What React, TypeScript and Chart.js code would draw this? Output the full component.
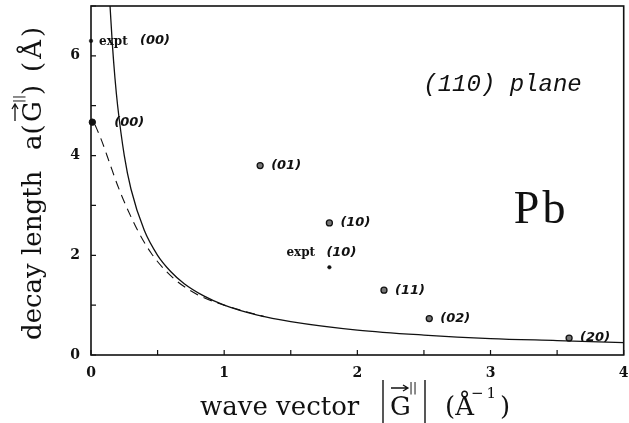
import React, { useEffect, useRef } from 'react';
import { Chart, registerables } from 'chart.js';

Chart.register(...registerables);

// ---- data ----
const solidX = [0.143, 0.16, 0.18, 0.2, 0.25, 0.3, 0.4, 0.5, 0.6, 0.7, 0.85, 1.0, 1.25, 1.5, 2.0, 2.5, 3.0, 3.5, 4.0];
const solidY = [7.0, 6.25, 5.55, 5.0, 4.0, 3.33, 2.5, 2.0, 1.67, 1.43, 1.18, 1.0, 0.8, 0.67, 0.5, 0.4, 0.33, 0.29, 0.25];

const dashedX = [0.03, 0.08, 0.14, 0.2, 0.27, 0.35, 0.45, 0.55, 0.65, 0.8, 1.0, 1.3];
const dashedY = [4.62, 4.3, 3.85, 3.4, 2.95, 2.5, 2.05, 1.72, 1.47, 1.21, 1.0, 0.77];

const theoryX = [1.27, 1.79, 2.2, 2.54, 3.59];
const theoryY = [3.8, 2.65, 1.3, 0.73, 0.34];
const theoryLabels = ['(01)', '(10)', '(11)', '(02)', '(20)'];

const theory00X = [0.01];
const theory00Y = [4.67];
const theory00Labels = ['(00)'];

const exptX = [0.0, 1.79];
const exptY = [6.3, 1.76];
const exptLabels = ['(00)', '(10)'];

const xMin = 0, xMax = 4, xStep = 1, xMinorStep = 0.5;
const yMin = 0, yMax = 7, yStep = 1;

const planeText = '(110) plane';
const elementText = 'Pb';

// ---- styles / layout (not data) ----
const INK = '#111';
const BASE = '26px "DejaVu Serif"';
const SUP_BAR = '12px "DejaVu Sans"';
const SUP_NUM = '15px "DejaVu Serif"';
const LABEL_FONT = 'italic bold 13px "DejaVu Sans"';
const EXPT_FONT = 'bold 12px "DejaVu Serif"';

type Seg =
  | { k: 't'; t: string; at: number; font: string; dy?: number; sp?: number }
  | { k: 'bar'; at: number; y1: number; y2: number }
  | { k: 'arrow'; at: number; len: number; dy: number };

const xTitleSpec: Seg[] = [
  { k: 't', t: 'wave vector', at: 0, font: BASE },
  { k: 'bar', at: 183, y1: -35, y2: 8 },
  { k: 't', t: 'G', at: 190, font: BASE },
  { k: 'arrow', at: 191, len: 17, dy: -27 },
  { k: 't', t: '||', at: 209, font: SUP_BAR, dy: -23 },
  { k: 'bar', at: 225, y1: -35, y2: 8 },
  { k: 't', t: '(Å', at: 245, font: BASE },
  { k: 't', t: '−1', at: 271, font: SUP_NUM, dy: -17, sp: 3 },
  { k: 't', t: ')', at: 300, font: BASE },
];

const yTitleSpec: Seg[] = [
  { k: 't', t: 'decay length', at: 0, font: BASE },
  { k: 't', t: 'a(', at: 190, font: BASE },
  { k: 't', t: 'G', at: 218, font: BASE },
  { k: 'arrow', at: 219, len: 17, dy: -26 },
  { k: 't', t: '||', at: 237, font: SUP_BAR, dy: -18 },
  { k: 't', t: ')', at: 245, font: BASE },
  { k: 't', t: '(Å)', at: 268, font: BASE, sp: 3 },
];

function drawSpec(ctx: CanvasRenderingContext2D, spec: Seg[]) {
  ctx.fillStyle = INK;
  ctx.strokeStyle = INK;
  ctx.textAlign = 'left';
  ctx.textBaseline = 'alphabetic';
  for (const s of spec) {
    if (s.k === 't') {
      ctx.font = s.font;
      (ctx as any).letterSpacing = (s.sp || 0) + 'px';
      ctx.fillText(s.t, s.at, s.dy || 0);
      (ctx as any).letterSpacing = '0px';
    } else if (s.k === 'bar') {
      ctx.lineWidth = 1.4;
      ctx.beginPath();
      ctx.moveTo(s.at, s.y1);
      ctx.lineTo(s.at, s.y2);
      ctx.stroke();
    } else {
      ctx.lineWidth = 1.3;
      ctx.beginPath();
      ctx.moveTo(s.at, s.dy);
      ctx.lineTo(s.at + s.len, s.dy);
      ctx.moveTo(s.at + s.len - 5, s.dy - 3);
      ctx.lineTo(s.at + s.len, s.dy);
      ctx.lineTo(s.at + s.len - 5, s.dy + 3);
      ctx.stroke();
    }
  }
}

const decorPlugin = {
  id: 'decor',
  afterDraw(chart: any) {
    const ctx: CanvasRenderingContext2D = chart.ctx;
    const { left, right, top, bottom } = chart.chartArea;
    const xs = chart.scales.x;
    const ys = chart.scales.y;
    ctx.save();
    ctx.strokeStyle = INK;
    ctx.fillStyle = INK;
    // frame
    ctx.lineWidth = 1.6;
    ctx.strokeRect(left, top, right - left, bottom - top);
    // inward ticks
    ctx.lineWidth = 1.2;
    ctx.beginPath();
    for (let v = xMin; v <= xMax + 1e-9; v += xMinorStep) {
      const p = xs.getPixelForValue(v);
      ctx.moveTo(p, bottom);
      ctx.lineTo(p, bottom - 5);
    }
    for (let v = yMin; v <= yMax; v += yStep) {
      const p = ys.getPixelForValue(v);
      ctx.moveTo(left, p);
      ctx.lineTo(left + 5, p);
    }
    ctx.stroke();

    // point labels
    ctx.textBaseline = 'middle';
    ctx.textAlign = 'left';
    ctx.font = LABEL_FONT;
    theoryX.forEach((x, i) => {
      const px = xs.getPixelForValue(x);
      const py = ys.getPixelForValue(theoryY[i]);
      ctx.fillText(theoryLabels[i], px + 11, py);
    });
    theory00X.forEach((x, i) => {
      const px = xs.getPixelForValue(x);
      const py = ys.getPixelForValue(theory00Y[i]);
      ctx.fillText(theory00Labels[i], px + 22, py);
    });
    // expt labels
    const exptOffsets = [
      { ex: 8, lx: 49, dy: 1 },
      { ex: -43, lx: -3, dy: -14 },
    ];
    exptX.forEach((x, i) => {
      const px = xs.getPixelForValue(x);
      const py = ys.getPixelForValue(exptY[i]);
      const o = exptOffsets[i];
      ctx.font = EXPT_FONT;
      ctx.fillText('expt', px + o.ex, py + o.dy);
      ctx.font = LABEL_FONT;
      ctx.fillText(exptLabels[i], px + o.lx, py + o.dy - 1);
    });

    // annotations
    ctx.textAlign = 'center';
    ctx.font = 'italic 24px "Liberation Mono"';
    ctx.fillText(planeText, xs.getPixelForValue(3.09), ys.getPixelForValue(5.43));
    ctx.font = '46px "Liberation Serif"';
    (ctx as any).letterSpacing = '3px';
    ctx.fillText(elementText, xs.getPixelForValue(3.38), ys.getPixelForValue(2.88));
    (ctx as any).letterSpacing = '0px';

    // axis titles
    ctx.save();
    ctx.translate(200, 415);
    drawSpec(ctx, xTitleSpec);
    ctx.restore();

    ctx.save();
    ctx.translate(41, 340);
    ctx.rotate(-Math.PI / 2);
    drawSpec(ctx, yTitleSpec);
    ctx.restore();

    ctx.restore();
  },
};

const zip = (xs: number[], ys: number[]) => xs.map((x, i) => ({ x, y: ys[i] }));

export default function App() {
  const ref = useRef<HTMLCanvasElement | null>(null);
  useEffect(() => {
    document.body.style.margin = '0';
    document.body.style.overflow = 'hidden';
    document.body.style.background = '#fff';
    if (!ref.current) return;
    const tickFont = { family: 'DejaVu Serif', size: 14, weight: 'bold' as const };
    const chart = new Chart(ref.current, {
      type: 'scatter',
      data: {
        datasets: [
          {
            data: zip(solidX, solidY),
            showLine: true,
            borderColor: INK,
            borderWidth: 1.3,
            pointRadius: 0,
            cubicInterpolationMode: 'monotone',
          },
          {
            data: zip(dashedX, dashedY),
            showLine: true,
            borderColor: INK,
            borderWidth: 1.1,
            borderDash: [9, 6],
            pointRadius: 0,
            cubicInterpolationMode: 'monotone',
          },
          {
            data: zip(theoryX, theoryY),
            showLine: false,
            pointRadius: 3,
            pointBackgroundColor: '#777',
            pointBorderColor: INK,
            pointBorderWidth: 1.3,
            clip: false,
          },
          {
            data: zip(theory00X, theory00Y),
            showLine: false,
            pointRadius: 3.2,
            pointBackgroundColor: INK,
            pointBorderColor: INK,
            pointBorderWidth: 1,
            clip: false,
          },
          {
            data: zip(exptX, exptY),
            showLine: false,
            pointRadius: 1.8,
            pointBackgroundColor: INK,
            pointBorderColor: INK,
            pointBorderWidth: 0.5,
            clip: false,
          },
        ] as any,
      },
      options: {
        animation: false,
        responsive: false,
        events: [],
        layout: { padding: { left: 0, right: 2, top: 6, bottom: 0 } },
        plugins: { legend: { display: false }, tooltip: { enabled: false } },
        scales: {
          x: {
            type: 'linear',
            min: xMin,
            max: xMax,
            ticks: { stepSize: xStep, font: tickFont, color: INK, padding: 2, maxRotation: 0 },
            grid: { display: false },
            border: { display: false },
            afterFit: (s: any) => {
              s.height = 68;
              s.paddingLeft = 0;
              s.paddingRight = 0;
            },
          },
          y: {
            type: 'linear',
            min: yMin,
            max: yMax,
            ticks: {
              stepSize: yStep,
              font: tickFont,
              color: INK,
              padding: 3,
              callback: (v: any) => (Number(v) % 2 === 0 ? String(v) : ''),
            },
            grid: { display: false },
            border: { display: false },
            afterFit: (s: any) => {
              s.width = 91;
              s.paddingTop = 0;
              s.paddingBottom = 0;
            },
          },
        },
      } as any,
      plugins: [decorPlugin],
    });
    return () => chart.destroy();
  }, []);
  return (
    <div style={{ width: 629, height: 423, background: '#fff' }}>
      <canvas ref={ref} width={629} height={423} style={{ display: 'block' }} />
    </div>
  );
}
